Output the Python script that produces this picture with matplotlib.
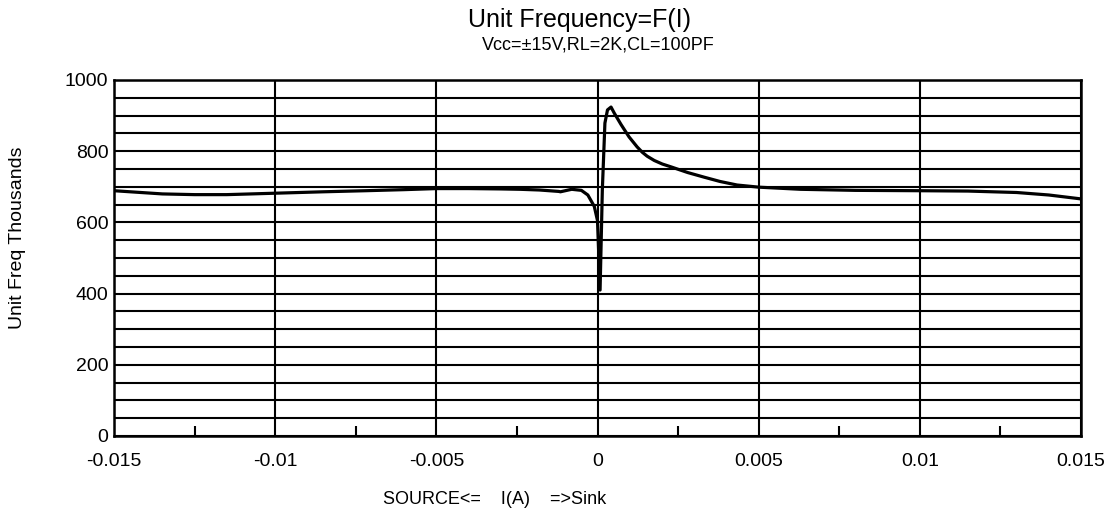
import numpy as np
import matplotlib
matplotlib.use("Agg")
import matplotlib.pyplot as plt
from matplotlib.ticker import MultipleLocator

plt.rcParams["font.family"] = ["Liberation Sans", "DejaVu Sans"]

# current (A), negative = source, positive = sink
current = [-0.015, -0.014, -0.0135, -0.0125, -0.0115, -0.010, -0.0085,
           -0.0072, -0.006, -0.005, -0.004, -0.003, -0.0024, -0.0018,
           -0.0012, -0.00115, -0.0008, -0.0005, -0.0003, -0.0001, 0.0,
           0.00008, 0.00015, 0.00023, 0.00031, 0.00042, 0.00052, 0.00073,
           0.00098, 0.00123, 0.00139, 0.00154, 0.00176, 0.00201, 0.00228,
           0.0028, 0.00331, 0.0038, 0.00433, 0.005, 0.0063, 0.008, 0.010,
           0.0115, 0.013, 0.014, 0.015]
# unit gain frequency (thousands)
unit_freq = [689, 683, 680, 678, 678, 682, 686,
             689, 692, 695, 695, 694, 693, 691,
             687, 686, 693, 690, 677, 645, 605,
             410, 691, 879, 916, 924, 907, 875,
             840, 812, 797, 786, 774, 764, 756,
             740, 727, 715, 705, 699, 693, 690, 689,
             688, 684, 677, 666]

fig = plt.figure(figsize=(11.06, 5.16), dpi=100)
ax = fig.add_axes([114 / 1106, 1 - 436 / 516, 967 / 1106, 356 / 516])

ax.plot(current, unit_freq, color="black", linewidth=2.3, zorder=3)

ax.set_xlim(-0.015, 0.015)
ax.set_ylim(0, 1000)
ax.xaxis.set_minor_locator(MultipleLocator(0.0025))
ax.yaxis.set_major_locator(MultipleLocator(200))
ax.yaxis.set_minor_locator(MultipleLocator(50))
ax.set_xticks([-0.015, -0.01, -0.005, 0, 0.005, 0.01, 0.015])
ax.set_xticklabels(["-0.015", "-0.01", "-0.005", "0", "0.005", "0.01", "0.015"])

ax.grid(True, which="major", axis="x", color="black", linewidth=1.5)
ax.grid(True, which="both", axis="y", color="black", linewidth=1.5)
ax.tick_params(axis="both", which="major", length=0, labelsize=14)
ax.tick_params(axis="x", which="major", pad=12)
ax.tick_params(axis="y", which="major", pad=4)
ax.tick_params(axis="x", which="minor", direction="in", length=7, width=1.5)
ax.tick_params(axis="y", which="minor", length=0)
for s in ax.spines.values():
    s.set_linewidth(1.8)

fig.text(580 / 1106, 1 - 20 / 516, "Unit Frequency=F(I)", ha="center",
         va="center", fontsize=18)
fig.text(598 / 1106, 1 - 45 / 516, "Vcc=\u00b115V,RL=2K,CL=100PF", ha="center",
         va="center", fontsize=13)
fig.text(18 / 1106, 1 - 238 / 516, "Unit Freq Thousands", rotation=90,
         ha="center", va="center", fontsize=14)
fig.text(495 / 1106, 1 - 500 / 516, "SOURCE<=    I(A)    =>Sink", ha="center",
         va="center", fontsize=13)

fig.savefig("out.png", dpi=100)
